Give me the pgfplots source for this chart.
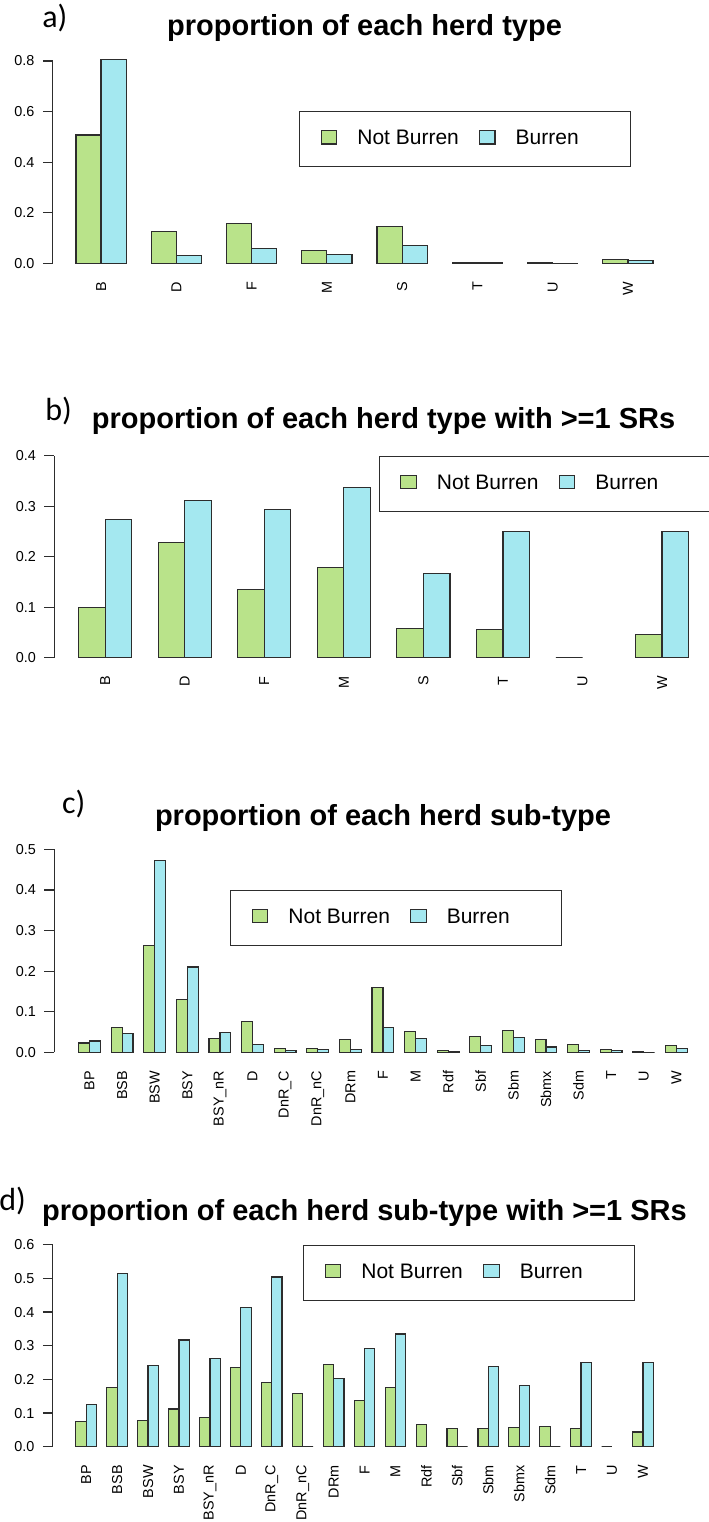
\documentclass[border=0pt]{standalone}
\usepackage{fontspec}
\setmainfont{Liberation Sans}
\newfontfamily\calibri{Carlito}
\usepackage{pgfplots}
\usepackage{pgfplotstable}
\pgfplotsset{compat=1.18}

\definecolor{nbgreen}{RGB}{185,227,138}
\definecolor{bublue}{RGB}{164,232,240}
\definecolor{edge}{RGB}{45,45,45}

% herd types: share of herds, Not Burren vs Burren
\pgfplotstableread{
name nb   bu
B    0.507 0.807
D    0.126 0.030
F    0.159 0.059
M    0.050 0.036
S    0.145 0.069
T    0.004 0.004
U    0.001 0.000
W    0.016 0.012
}\typeshare

% herd types with >=1 SRs
\pgfplotstableread{
name nb   bu
B    0.099 0.274
D    0.228 0.312
F    0.135 0.293
M    0.178 0.337
S    0.058 0.166
T    0.056 0.250
U    0.000 nan
W    0.046 0.250
}\typesr

% herd sub-types: share of herds
\pgfplotstableread{
name   nb    bu
BP     0.023 0.028
BSB    0.061 0.046
BSW    0.264 0.473
BSY    0.130 0.210
BSYnR  0.034 0.049
D      0.076 0.020
DnRC   0.010 0.004
DnRnC  0.010 0.007
DRm    0.031 0.007
F      0.159 0.061
M      0.052 0.034
Rdf    0.004 0.001
Sbf    0.039 0.016
Sbm    0.054 0.037
Sbmx   0.031 0.013
Sdm    0.020 0.004
T      0.007 0.004
U      0.001 0.000
W      0.016 0.010
}\subshare

% herd sub-types with >=1 SRs
\pgfplotstableread{
name   nb    bu
BP     0.075 0.125
BSB    0.176 0.514
BSW    0.079 0.241
BSY    0.112 0.317
BSYnR  0.087 0.263
D      0.235 0.414
DnRC   0.190 0.504
DnRnC  0.158 0.000
DRm    0.245 0.202
F      0.137 0.291
M      0.176 0.335
Rdf    0.065 nan
Sbf    0.053 0.000
Sbm    0.054 0.238
Sbmx   0.056 0.183
Sdm    0.061 0.000
T      0.054 0.250
U      0.000 nan
W      0.044 0.250
}\subsr

\pgfplotsset{
  sq legend/.style={legend image code/.code={%
    \draw[##1, draw=edge, line width=0.6pt] (0pt,0.45pt) rectangle (7.8pt,7.05pt);}},
  herdaxis/.style={
    scale only axis,
    ybar=0pt, bar width=0.3333,
    axis x line*=bottom, axis y line*=left,
    x axis line style={draw=none}, y axis line style={draw=none},
    tick align=outside, major tick length=5pt,
    xtick style={draw=none},
    ytick style={draw=edge, line width=0.6pt},
    tick label style={font=\fontsize{7.2}{8.6}\selectfont},
    xticklabel style={rotate=90, anchor=east, inner sep=0pt},
    yticklabel style={anchor=east, inner sep=0pt, xshift=-4pt},
    /pgf/number format/.cd, fixed, fixed zerofill, precision=1, assume math mode=true,
    /pgfplots/.cd,
    clip=false,
    legend columns=2,
    legend style={draw=edge, line width=0.6pt, fill=white,
      inner xsep=10.5pt, inner ysep=9.4pt,
      font=\fontsize{10.5}{12.6}\selectfont,
      nodes={inner sep=0pt, anchor=base},
      /tikz/every odd column/.style={column sep=10pt},
      /tikz/every even column/.style={column sep=10pt}},
  },
  nbbar/.style={fill=nbgreen, draw=edge, line width=0.6pt, sq legend},
  bubar/.style={fill=bublue, draw=edge, line width=0.6pt, sq legend},
}

\newcommand\panelfont{\fontsize{14.5}{17}\selectfont\bfseries}
\newcommand\tagfont{\calibri\fontsize{16}{19}\selectfont}

\begin{document}
\begin{tikzpicture}
\useasboundingbox (0pt,0pt) rectangle (354pt,-761pt);

% a) herd types
\begin{axis}[herdaxis,
  at={(26.45pt,-135.75pt)}, anchor=south west,
  width=311.6pt, height=110.2pt,
  xmin=-0.64, xmax=7.64, ymin=-0.0323, ymax=0.839,
  xtick={0,...,7}, xticklabels={B,D,F,M,S,T,U,W},
  ytick={0,0.2,0.4,0.6,0.8},
  legend style={at={(axis cs:2.629,0.603)}, anchor=north west}]
\addplot[nbbar] table[x expr=\coordindex, y=nb] {\typeshare};
\addplot[bubar] table[x expr=\coordindex, y=bu] {\typeshare};
\legend{Not Burren,Burren\hspace*{15.5pt}}
\draw[edge, line width=0.6pt] ({rel axis cs:0,0}|-{axis cs:0,0}) -- ({rel axis cs:0,0}|-{axis cs:0,0.8});
\end{axis}

% b) herd types with >=1 SRs
\begin{axis}[herdaxis,
  at={(27.1pt,-332.9pt)}, anchor=south west,
  width=329.4pt, height=109.1pt,
  xmin=-0.64, xmax=7.64, ymin=-0.016, ymax=0.416,
  xtick={0,...,7}, xticklabels={B,D,F,M,S,T,U,W},
  ytick={0,0.1,0.2,0.3,0.4},
  legend style={at={(axis cs:3.437,0.4)}, anchor=north west}]
\addplot[nbbar] table[x expr=\coordindex, y=nb] {\typesr};
\addplot[bubar] table[x expr=\coordindex, y=bu] {\typesr};
\legend{Not Burren,Burren\hspace*{15.5pt}}
\draw[edge, line width=0.6pt] ({rel axis cs:0,0}|-{axis cs:0,0}) -- ({rel axis cs:0,0}|-{axis cs:0,0.4});
\end{axis}

% c) herd sub-types
\begin{axis}[herdaxis,
  at={(27.15pt,-530.2pt)}, anchor=south west,
  width=328.65pt, height=109.6pt,
  xmin=-1.08, xmax=19.08, ymin=-0.02, ymax=0.52,
  xtick={0,...,18},
  xticklabels={BP,BSB,BSW,BSY,BSY\_nR,D,DnR\_C,DnR\_nC,DRm,F,M,Rdf,Sbf,Sbm,Sbmx,Sdm,T,U,W},
  ytick={0,0.1,0.2,0.3,0.4,0.5},
  legend style={at={(axis cs:4.31,0.401)}, anchor=north west}]
\addplot[nbbar] table[x expr=\coordindex, y=nb] {\subshare};
\addplot[bubar] table[x expr=\coordindex, y=bu] {\subshare};
\legend{Not Burren,Burren\hspace*{15.5pt}}
\draw[edge, line width=0.6pt] ({rel axis cs:0,0}|-{axis cs:0,0}) -- ({rel axis cs:0,0}|-{axis cs:0,0.5});
\end{axis}

% d) herd sub-types with >=1 SRs
\begin{axis}[herdaxis,
  at={(26.4pt,-727.4pt)}, anchor=south west,
  width=311.75pt, height=109.1pt,
  xmin=-1.08, xmax=19.08, ymin=-0.024, ymax=0.624,
  xtick={0,...,18},
  xticklabels={BP,BSB,BSW,BSY,BSY\_nR,D,DnR\_C,DnR\_nC,DRm,F,M,Rdf,Sbf,Sbm,Sbmx,Sdm,T,U,W},
  ytick={0,0.1,0.2,0.3,0.4,0.5,0.6},
  legend style={at={(axis cs:7.01,0.6)}, anchor=north west}]
\addplot[nbbar] table[x expr=\coordindex, y=nb] {\subsr};
\addplot[bubar] table[x expr=\coordindex, y=bu] {\subsr};
\legend{Not Burren,Burren\hspace*{15.5pt}}
\draw[edge, line width=0.6pt] ({rel axis cs:0,0}|-{axis cs:0,0}) -- ({rel axis cs:0,0}|-{axis cs:0,0.6});
\end{axis}

% panel titles and tags
\node[anchor=base, font=\panelfont] at (182.25pt,-17.5pt) {proportion of each herd type};
\node[anchor=base, font=\panelfont] at (191.8pt,-214.25pt) {proportion of each herd type with >=1 SRs};
\node[anchor=base, font=\panelfont] at (191.5pt,-412.5pt) {proportion of each herd sub-type};
\node[anchor=base, font=\panelfont] at (182.25pt,-610pt) {proportion of each herd sub-type with >=1 SRs};

\node[anchor=base west, inner sep=0pt, font=\tagfont] at (21pt,-13.5pt) {a)};
\node[anchor=base west, inner sep=0pt, font=\tagfont] at (22.5pt,-210pt) {b)};
\node[anchor=base west, inner sep=0pt, font=\tagfont] at (30.85pt,-406.5pt) {c)};
\node[anchor=base west, inner sep=0pt, font=\tagfont] at (-0.5pt,-605pt) {d)};
\end{tikzpicture}
\end{document}
